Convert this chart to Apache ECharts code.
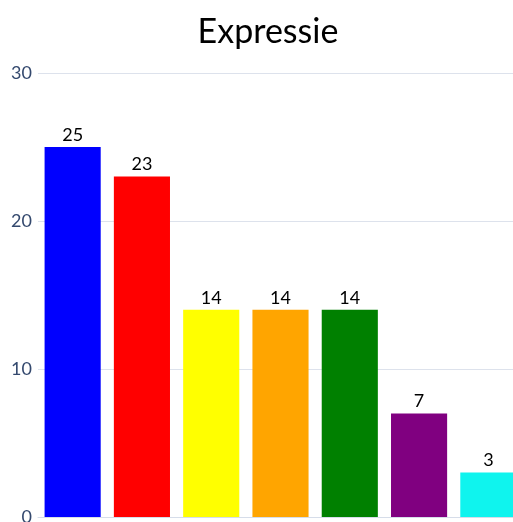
<!DOCTYPE html>
<html><head><meta charset="utf-8">
<script src="https://cdn.jsdelivr.net/npm/echarts@6/dist/echarts.min.js"></script>
<style>html,body{margin:0;padding:0;overflow:hidden;background:#fff}#c{width:536px;height:522px}</style>
</head><body><div id="c"></div>
<script>
const categories = ['A', 'B', 'C', 'D', 'E', 'F', 'G'];
const values = [25, 23, 14, 14, 14, 7, 3];
const colors = ['#0000ff', '#ff0000', '#ffff00', '#ffa500', '#008000', '#800080', '#0ff4ee'];
const yTicks = [0, 10, 20, 30];
const chart = echarts.init(document.getElementById('c'));
chart.setOption({
  animation: false,
  title: { text: 'Expressie', left: 'center', top: 10, textStyle: { fontFamily: 'Lato', fontWeight: 'normal', fontSize: 34, color: '#000' } },
  grid: { left: 38, right: 13, top: 73, bottom: 5, outerBoundsMode: 'none' },
  xAxis: { type: 'category', data: categories, axisLabel: { show: false }, axisTick: { show: false }, axisLine: { lineStyle: { color: '#d6dde9' } } },
  yAxis: { type: 'value', min: yTicks[0], max: yTicks[yTicks.length - 1], interval: 10,
    axisLabel: { color: '#34496e', fontSize: 18, fontFamily: 'Lato', margin: 6 },
    splitLine: { lineStyle: { color: '#dde2ec' } } },
  series: [{ type: 'bar', data: values.map((v, i) => ({ value: v, itemStyle: { color: colors[i] } })),
    barCategoryGap: '19%',
    label: { show: true, position: 'top', color: '#000', fontSize: 18, fontFamily: 'Lato', distance: 3 } }]
});
</script></body></html>
